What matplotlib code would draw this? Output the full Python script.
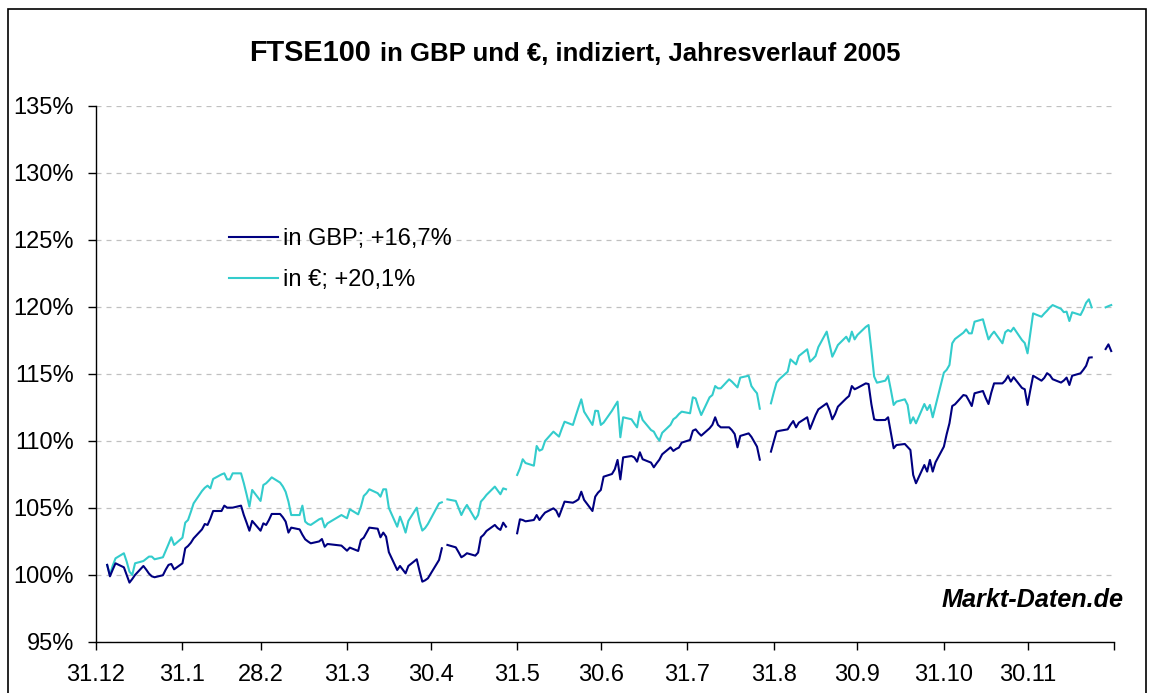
import numpy as np
import pandas as pd
import matplotlib
matplotlib.use("Agg")
import matplotlib.pyplot as plt
from matplotlib.patches import Rectangle

plt.rcParams['font.family'] = ['Liberation Sans', 'DejaVu Sans']

nan = np.nan

# Handelstage 2005 ab 4.1.; Ostern und 2.5. fehlen ganz,
# an diesen Tagen sind die Zellen leer (Luecke in der Linie)
ohne_zeile = ['2005-03-25', '2005-03-28', '2005-05-02']
leer = ['2005-05-05', '2005-05-30', '2005-08-29', '2005-12-26', '2005-12-27']

# FTSE100 in GBP, indiziert (31.12.2004 = 100)
gbp = [
    100.75, 99.9, 100.4, 100.87, 100.57, 100.0, 99.43, 99.7, 100.0, 100.67,
    100.4, 100.1, 99.9, 99.83, 99.98, 100.4, 100.75, 100.82, 100.42, 100.87,  # Jan
    101.99, 102.16, 102.4, 102.73, 103.4, 103.8, 103.73, 104.2, 104.77, 104.77,
    105.17, 105.02, 105.02, 105.02, 105.17, 104.47, 103.9, 103.3, 104.03, 103.3,  # Feb
    103.85, 103.73, 104.1, 104.55, 104.55, 104.3, 103.98, 103.16, 103.53, 103.4, 103.0,
    102.66, 102.5, 102.36, 102.5, 102.68, 102.11, 102.31, 102.19, 102.0, 101.81,  # Mar
    102.04, 101.79, 102.61, 102.78, 103.15, 103.53, 103.45, 102.81, 103.16, 102.86, 101.7,
    100.37, 100.67, 100.4, 100.12, 100.67, 101.17, 100.3, 99.5, 99.6, 99.75,  # Apr
    101.12, 101.99, nan, 102.24, 102.06, 101.7, 101.32, 101.45, 101.62, 101.44, 101.67,
    102.81, 103.0, 103.28, 103.73, 103.5, 103.36, 103.9, 103.6, nan, 103.11,  # Mai
    104.15, 104.1, 104.0, 104.1, 104.47, 104.1, 104.4, 104.65, 104.97, 104.8, 104.35,
    104.9, 105.47, 105.39, 105.5, 105.64, 106.21, 105.6, 104.77, 105.84, 106.14, 106.34,  # Jun
    107.33, 107.53, 107.88, 108.58, 107.13, 108.77, 108.87, 108.77, 108.45, 109.15, 108.63,
    108.38, 108.03, 108.33, 108.6, 109.0, 109.52, 109.25, 109.4, 109.5, 109.87,  # Jul
    110.07, 110.76, 110.86, 110.6, 110.39, 110.94, 111.2, 111.76, 111.19, 111.01, 111.01, 110.8,
    110.51, 109.52, 110.37, 110.56, 110.3, 109.94, 109.57, 108.6, nan, 109.2, 109.95,  # Aug
    110.69, 110.75, 110.86, 111.2, 111.48, 111.01, 111.36, 111.76, 110.89, 111.4, 111.93,
    112.35, 112.8, 112.3, 111.61, 112.0, 112.55, 113.17, 113.35, 114.09, 113.85, 113.95,  # Sep
    114.29, 114.24, 112.75, 111.61, 111.55, 111.56, 111.76, 110.6, 109.45, 109.69, 109.77,
    109.55, 109.32, 107.46, 106.84, 108.2, 107.71, 108.58, 107.71, 108.4, 109.57,  # Okt
    110.5, 111.31, 112.6, 112.73, 113.42, 113.37, 113.0, 112.6, 113.55, 113.72, 113.2,
    112.75, 113.6, 114.29, 114.29, 114.5, 114.84, 114.42, 114.75, 113.95, 113.85, 112.68,  # Nov
    113.8, 114.86, 114.49, 114.7, 115.05, 114.9, 114.6, 114.35, 114.5, 114.72, 114.17,
    114.86, 115.04, 115.3, 115.6, 116.21, 116.23, nan, nan, 116.85, 117.2, 116.7,  # Dez
]

# FTSE100 in EUR, indiziert
eur = [
    100.75, 100.0, 100.7, 101.24, 101.62, 101.0, 100.25, 100.0, 100.87, 101.04,
    101.2, 101.37, 101.37, 101.17, 101.32, 101.8, 102.3, 102.81, 102.24, 102.78,  # Jan
    103.9, 104.1, 104.7, 105.34, 106.26, 106.5, 106.66, 106.46, 107.16, 107.5,
    107.58, 107.13, 107.13, 107.58, 107.58, 106.84, 106.0, 105.1, 106.34, 105.52,  # Feb
    106.71, 106.84, 107.05, 107.28, 106.89, 106.6, 106.2, 105.47, 104.47, 104.47, 105.17,
    103.98, 103.8, 103.73, 104.15, 104.23, 103.55, 103.85, 104.47, 104.35, 104.23,  # Mar
    104.9, 104.52, 105.1, 105.89, 106.1, 106.39, 106.1, 105.84, 106.39, 106.39, 105.0,
    103.6, 104.35, 103.8, 103.16, 104.03, 105.02, 104.0, 103.31, 103.5, 103.8,  # Apr
    105.34, 105.42, nan, 105.64, 105.52, 105.0, 104.47, 104.9, 105.22, 104.15, 104.47,
    105.47, 105.7, 105.97, 106.59, 106.3, 106.02, 106.46, 106.39, nan, 107.46,  # Mai
    107.95, 108.63, 108.35, 108.15, 109.62, 109.27, 109.37, 109.99, 110.69, 110.5, 110.32,
    110.9, 111.43, 111.19, 111.86, 112.5, 113.1, 112.18, 111.19, 112.25, 112.23, 111.19,  # Jun
    111.36, 112.25, 112.6, 112.93, 110.27, 111.76, 111.61, 111.3, 111.01, 112.18, 111.56,
    110.81, 110.69, 110.3, 110.02, 110.6, 111.2, 111.61, 111.76, 112.0, 112.18,  # Jul
    112.06, 113.25, 113.17, 112.5, 111.93, 113.25, 113.42, 114.09, 113.92, 113.92, 114.59, 114.42,
    114.2, 113.99, 114.72, 114.86, 114.09, 113.8, 113.55, 112.4, nan, 112.8, 113.6,  # Aug
    114.34, 114.6, 115.16, 116.08, 115.9, 115.71, 116.33, 116.83, 115.91, 116.1, 116.33,
    117.0, 118.15, 117.2, 116.28, 116.7, 117.15, 117.77, 117.4, 118.15, 117.57, 117.9,  # Sep
    118.5, 118.64, 116.78, 114.8, 114.34, 114.49, 114.84, 113.8, 112.68, 112.93, 113.1,
    112.68, 111.31, 111.76, 111.31, 112.75, 112.3, 112.68, 111.76, 112.6, 115.09,  # Okt
    115.3, 115.66, 117.28, 117.6, 118.07, 118.32, 118.02, 118.02, 118.89, 119.07, 118.3,
    117.57, 117.9, 118.15, 117.28, 118.1, 118.27, 118.15, 118.44, 117.52, 117.3, 116.53,  # Nov
    118.0, 119.51, 119.26, 119.5, 119.71, 119.95, 120.13, 119.85, 119.6, 119.64, 118.94,
    119.59, 119.39, 119.8, 120.3, 120.56, 119.96, nan, nan, 119.96, 120.05, 120.13,  # Dez
]

tick_tage = ['2004-12-31', '2005-01-31', '2005-02-28', '2005-03-31', '2005-04-30',
             '2005-05-31', '2005-06-30', '2005-07-31', '2005-08-31', '2005-09-30',
             '2005-10-31', '2005-11-30', '2005-12-31']
tick_text = ['31.12', '31.1', '28.2', '31.3', '30.4', '31.5', '30.6', '31.7',
             '31.8', '30.9', '31.10', '30.11', '']

y_ticks = [95, 100, 105, 110, 115, 120, 125, 130, 135]

tage = pd.bdate_range('2005-01-04', '2005-12-30').drop(pd.to_datetime(ohne_zeile))
assert len(tage) == len(gbp) == len(eur)

W, H = 1150, 693
fig = plt.figure(figsize=(W / 100, H / 100), dpi=100)

# Diagrammbereich (Pixelwerte aus der Vorlage)
ax = fig.add_axes([96 / W, 1 - 642 / H, (1114 - 96) / W, (642 - 105.7) / H])

ax.plot(tage, gbp, color='#000080', lw=1.5, label='in GBP; +16,7%', zorder=3)
ax.plot(tage, eur, color='#33CCCC', lw=1.5, label='in €; +20,1%', zorder=2)

ax.set_xlim(pd.Timestamp('2004-12-31'), pd.Timestamp('2005-12-31'))
ax.set_ylim(95, 135)
ax.set_xticks(pd.to_datetime(tick_tage))
ax.set_xticklabels(tick_text)
ax.set_yticks(y_ticks)
ax.set_yticklabels([f'{v}%' for v in y_ticks])

ax.yaxis.grid(True, color='#c0c0c0', lw=0.9, linestyle=(0, (4, 4)))
ax.set_axisbelow(True)
for s in ['top', 'right']:
    ax.spines[s].set_visible(False)
for s in ['left', 'bottom']:
    ax.spines[s].set_linewidth(1.0)
    ax.spines[s].set_color('black')

ax.tick_params(axis='both', direction='out', length=6, width=1, color='black',
               labelsize=17, labelcolor='black')
ax.tick_params(axis='y', pad=10)
ax.tick_params(axis='x', pad=9.5)

leg = ax.legend(loc='upper left', bbox_to_anchor=(229 / W, 1 - 228 / H),
                bbox_transform=fig.transFigure, frameon=False, fontsize=17,
                handlelength=2.07, handletextpad=0.2, labelspacing=0.8,
                borderpad=0, borderaxespad=0)

# Titel: "FTSE100" groesser, Rest normal fett
t1 = fig.text(249 / W, 1 - 61.3 / H, 'FTSE100', fontsize=20.8, weight='bold',
              va='baseline', ha='left')
r = fig.canvas.get_renderer()
x1 = t1.get_window_extent(r).x1
fig.text((x1 + 9.5) / W, 1 - 61.3 / H, 'in GBP und €, indiziert, Jahresverlauf 2005',
         fontsize=18.5, weight='bold', va='baseline', ha='left')

fig.text(1124 / W, 1 - 606.7 / H, 'Markt-Daten.de', fontsize=18.2, weight='bold',
         style='italic', ha='right', va='baseline')

# Rahmen um das ganze Diagramm
fig.patches.append(Rectangle((8 / W, -0.05), (1146 - 8) / W, 1.05 - 9 / H,
                             transform=fig.transFigure, fill=False,
                             edgecolor='black', lw=1.2, clip_on=False))

fig.savefig('out.png', dpi=100)
